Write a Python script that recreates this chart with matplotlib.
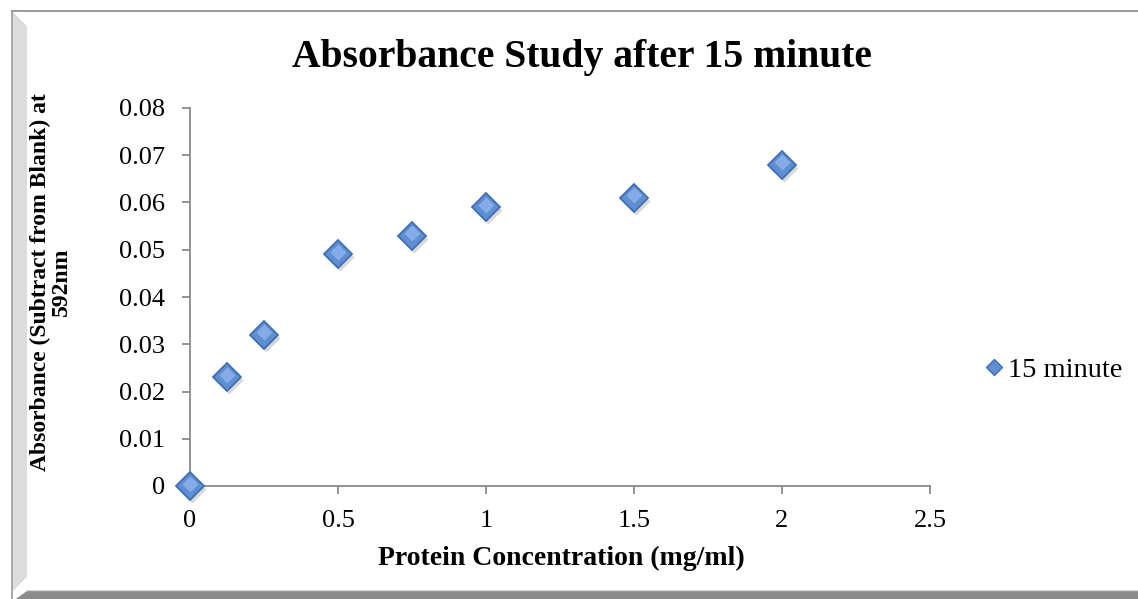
import matplotlib
matplotlib.use("Agg")
import matplotlib.pyplot as plt
import matplotlib.patches as mpatches
import matplotlib.transforms as mtransforms
from matplotlib.lines import Line2D

# data
conc = [0, 0.125, 0.25, 0.5, 0.75, 1.0, 1.5, 2.0]
absorb = [0.0, 0.023, 0.032, 0.049, 0.053, 0.059, 0.061, 0.068]
series_name = "15 minute"
x_ticks = [0, 0.5, 1, 1.5, 2, 2.5]
x_labels = ["0", "0.5", "1", "1.5", "2", "2.5"]
y_ticks = [0, 0.01, 0.02, 0.03, 0.04, 0.05, 0.06, 0.07, 0.08]
y_labels = ["0", "0.01", "0.02", "0.03", "0.04", "0.05", "0.06", "0.07", "0.08"]

plt.rcParams["font.family"] = ["Liberation Serif", "DejaVu Serif"]

W, H = 1138, 599
fig = plt.figure(figsize=(W / 100, H / 100), dpi=100)
fig.patch.set_facecolor("white")


def fx(px):
    return px / W


def fy(py):
    return (H - py) / H


# chart frame (bevel / shadow look)
frame_line = "#9a9a9a"
fig.add_artist(mpatches.Polygon(
    [(fx(13), fy(12)), (fx(27), fy(26)), (fx(27), fy(577)), (fx(13), fy(591))],
    closed=True, facecolor="#dcdcdc", edgecolor="none", transform=fig.transFigure))
fig.add_artist(mpatches.Polygon(
    [(fx(13), fy(H + 2)), (fx(27), fy(591)), (fx(W + 5), fy(591)), (fx(W + 5), fy(H + 2))],
    closed=True, facecolor="#8c8c8c", edgecolor="none", transform=fig.transFigure))
fig.add_artist(Line2D([fx(12), fx(12)], [fy(11), fy(H)], color=frame_line, lw=1.2,
                      transform=fig.transFigure))
fig.add_artist(Line2D([fx(12), fx(W)], [fy(11), fy(11)], color=frame_line, lw=1.4,
                      transform=fig.transFigure))
fig.add_artist(Line2D([fx(27), fx(W)], [fy(590), fy(590)], color="#d8d8d8", lw=1.0,
                      transform=fig.transFigure))

ax = fig.add_axes([fx(190), fy(486), fx(930) - fx(190), fy(108) - fy(486)])
ax.set_xlim(0, 2.5)
ax.set_ylim(0, 0.08)

# marker shadow, then the marker with a light highlight on top
shadow = mtransforms.offset_copy(ax.transData, fig=fig, x=1.5, y=-3, units="dots")
ax.plot(conc, absorb, linestyle="none", marker="D", markersize=14,
        markerfacecolor="#b9b9b9", markeredgecolor="none", alpha=0.55,
        transform=shadow, clip_on=False, zorder=3)
ax.plot(conc, absorb, linestyle="none", marker="D", markersize=14,
        markerfacecolor="#5f8fd3", markeredgecolor="#3f6fb2", markeredgewidth=1.3,
        clip_on=False, zorder=4)
hl = mtransforms.offset_copy(ax.transData, fig=fig, x=0, y=2.5, units="dots")
ax.plot(conc, absorb, linestyle="none", marker="D", markersize=8.5,
        markerfacecolor="#8fb4ec", markeredgecolor="none", alpha=0.8,
        transform=hl, clip_on=False, zorder=5)

for side in ["top", "right"]:
    ax.spines[side].set_visible(False)
for side in ["left", "bottom"]:
    ax.spines[side].set_color("#8a8a8a")
    ax.spines[side].set_linewidth(1.3)

ax.set_xticks(x_ticks)
ax.set_xticklabels(x_labels)
ax.set_yticks(y_ticks)
ax.set_yticklabels(y_labels)
ax.tick_params(axis="both", colors="#8a8a8a", labelcolor="black", labelsize=19,
               length=6, width=1.3, direction="out")
ax.tick_params(axis="y", pad=12)
ax.tick_params(axis="x", pad=11)

fig.text(fx(582), fy(67), "Absorbance Study after 15 minute", ha="center",
         va="baseline", fontsize=28.5, fontweight="bold")
fig.text(fx(561), fy(565), "Protein Concentration (mg/ml)", ha="center",
         va="baseline", fontsize=20, fontweight="bold")
fig.text(fx(51), fy(282), "Absorbance (Subtract from Blank) at\n592nm", ha="center",
         va="center", rotation=90, fontsize=17, fontweight="bold", linespacing=1.0,
         multialignment="center")

# legend
leg_handle = Line2D([], [], linestyle="none", marker="D", markersize=8,
                    markerfacecolor="#5f8fd3", markeredgecolor="#3f6fb2",
                    markeredgewidth=1.0)
fig.legend(handles=[leg_handle], labels=[series_name], loc="center left",
           bbox_to_anchor=(fx(987), fy(370)), frameon=False, fontsize=20.5,
           handlelength=0.5, handletextpad=0.25, borderaxespad=0, borderpad=0)

fig.savefig("out.png", dpi=100, facecolor="white")
